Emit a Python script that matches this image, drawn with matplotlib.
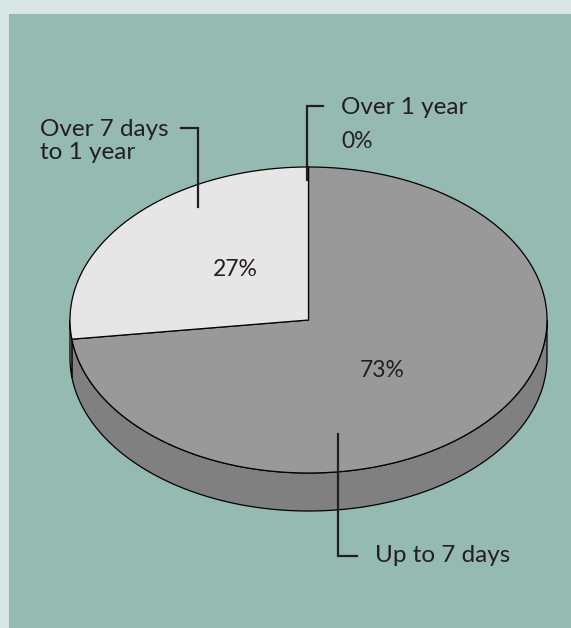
import numpy as np
import matplotlib.pyplot as plt
from matplotlib.patches import Polygon, Rectangle

# Dane wykresu
labels = ["Up to 7 days", "Over 7 days\nto 1 year", "Over 1 year"]
values = [73, 27, 0]
top_colors = ["#999999", "#e6e6e6", "#e6e6e6"]
side_colors = ["#808080", "#b8b8b8", "#b8b8b8"]

W, H = 571, 628
cx, cy = 308.5, 320.0
a, b = 238.5, 153.0
depth = 38.0
ink = "#231f20"

fig = plt.figure(figsize=(W / 100, H / 100), dpi=100)
fig.patch.set_facecolor("#d7e6e2")
ax = fig.add_axes([0, 0, 1, 1])
ax.set_xlim(0, W)
ax.set_ylim(H, 0)
ax.axis("off")
ax.add_patch(Rectangle((9, 14), W - 9, H - 14, facecolor="#95bab1", edgecolor="none"))


def pt(t, dy=0.0):
    r = np.radians(t)
    return cx + a * np.cos(r), cy - b * np.sin(r) + dy


# kąty wycinków: start na górze, zgodnie z ruchem wskazówek zegara
total = sum(values)
spans = []
start = 90.0
for v in values:
    end = start - 360.0 * v / total
    spans.append((end, start))
    start = end

# ścianki boczne (tylko przednia połowa)
for (t1, t2), col in zip(spans, side_colors):
    lo, hi = t1 % 360, (t1 % 360) + (t2 - t1)
    for off in (0, 360, -360):
        s, e = max(lo, 180 + off), min(hi, 360 + off)
        if e > s:
            ts = np.linspace(s, e, 200)
            top = [pt(t) for t in ts]
            bot = [pt(t, depth) for t in ts[::-1]]
            ax.add_patch(Polygon(top + bot, closed=True, facecolor=col,
                                 edgecolor="black", lw=0.9, joinstyle="round"))

# górne powierzchnie
for (t1, t2), col in zip(spans, top_colors):
    if t2 - t1 <= 0:
        continue
    ts = np.linspace(t1, t2, 400)
    verts = [(cx, cy)] + [pt(t) for t in ts]
    ax.add_patch(Polygon(verts, closed=True, facecolor=col,
                         edgecolor="black", lw=0.9, joinstyle="round"))

font = "Lato"
fs = 17.5

# etykiety procentowe
for (t1, t2), v in zip(spans, values):
    if v == 0:
        continue
    m = np.radians((t1 + t2) / 2)
    x = cx + 0.41 * a * np.cos(m)
    y = cy - 0.5 * b * np.sin(m)
    ax.text(x, y, f"{v}%", ha="center", va="center", fontsize=16.5,
            family=font, color=ink)

# linie odniesienia
lk = dict(color=ink, lw=1.6, solid_joinstyle="miter")
ax.plot([307, 307, 323], [180, 106, 106], **lk)
ax.plot([198, 198, 181], [207, 128, 128], **lk)
ax.plot([338, 338, 357], [434, 556, 556], **lk)

ax.text(341, 107, labels[2], ha="left", va="center", fontsize=fs, family=font, color=ink)
ax.text(341, 141, f"{values[2]}%", ha="left", va="center", fontsize=16.5, family=font, color=ink)
ax.text(40, 141, labels[1], ha="left", va="center", fontsize=fs, family=font,
        color=ink, linespacing=1.15)
ax.text(375, 556, labels[0], ha="left", va="center", fontsize=fs, family=font, color=ink)

fig.savefig("out.png", dpi=100, facecolor=fig.get_facecolor())
